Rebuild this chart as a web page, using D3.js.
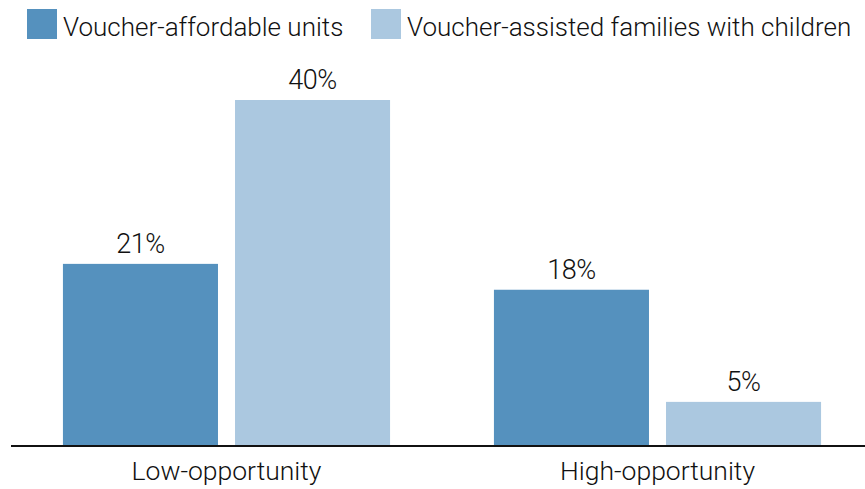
<!DOCTYPE html>
<html>
<head>
<meta charset="utf-8">
<script src="https://cdn.jsdelivr.net/npm/d3@7"></script>
<style>
  body { margin: 0; background: #fff; }
  text { font-family: Roboto, "Open Sans", sans-serif; font-weight: 300; fill: #111; }
</style>
</head>
<body>
<div id="chart"></div>
<script>
// data
const groups = ["Low-opportunity", "High-opportunity"];
const seriesNames = ["Voucher-affordable units", "Voucher-assisted families with children"];
const affordable = [21, 18];
const families = [40, 5];
const colors = ["#5591be", "#abc8e0"];

const width = 865,
    height = 489;

const svg = d3
    .select("#chart")
    .append("svg")
    .attr("width", width)
    .attr("height", height);

const data = groups.map((g, i) => ({
    group: g,
    values: [
        { key: seriesNames[0], value: affordable[i] },
        { key: seriesNames[1], value: families[i] },
    ],
}));

const x0 = d3
    .scaleBand()
    .domain(groups)
    .range([11, 873])
    .paddingInner(0.241)
    .paddingOuter(0.1205);

const x1 = d3
    .scaleBand()
    .domain(seriesNames)
    .range([0, x0.bandwidth()])
    .paddingInner(0.099);

const y = d3.scaleLinear().domain([0, 40]).range([445, 100]);

const color = d3.scaleOrdinal(seriesNames, colors);

// bars
const g = svg
    .append("g")
    .selectAll("g")
    .data(data)
    .join("g")
    .attr("transform", (d) => `translate(${x0(d.group)},0)`);

g.selectAll("rect")
    .data((d) => d.values)
    .join("rect")
    .attr("x", (d) => x1(d.key))
    .attr("y", (d) => y(d.value))
    .attr("width", x1.bandwidth())
    .attr("height", (d) => y(0) - y(d.value))
    .attr("fill", (d) => color(d.key));

g.selectAll("text")
    .data((d) => d.values)
    .join("text")
    .attr("x", (d) => x1(d.key) + x1.bandwidth() / 2)
    .attr("y", (d) => y(d.value) - 11)
    .attr("text-anchor", "middle")
    .style("font-size", "27px")
    .style("letter-spacing", "-0.5px")
    .text((d) => d.value + "%");

// baseline + category labels
const xAxis = svg
    .append("g")
    .attr("transform", `translate(0,${y(0)})`)
    .call(d3.axisBottom(x0).tickSize(0).tickPadding(16));
xAxis.select(".domain").remove();
xAxis.selectAll("text").style("font-size", "26.5px").style("font-family", null).attr("fill", null);
xAxis.selectAll("text").attr("dy", "0.71em");

svg.append("line")
    .attr("x1", 11)
    .attr("x2", width)
    .attr("y1", y(0) + 1)
    .attr("y2", y(0) + 1)
    .attr("stroke", "#111")
    .attr("stroke-width", 2.2);

// legend
const legendX = [27, 371];
const legend = svg
    .append("g")
    .selectAll("g")
    .data(seriesNames)
    .join("g")
    .attr("transform", (d, i) => `translate(${legendX[i]},9)`);

legend
    .append("rect")
    .attr("width", 30)
    .attr("height", 30)
    .attr("fill", (d) => color(d));

legend
    .append("text")
    .attr("x", 36)
    .attr("y", 27)
    .style("font-size", "26px")
    .text((d) => d);
</script>
</body>
</html>
